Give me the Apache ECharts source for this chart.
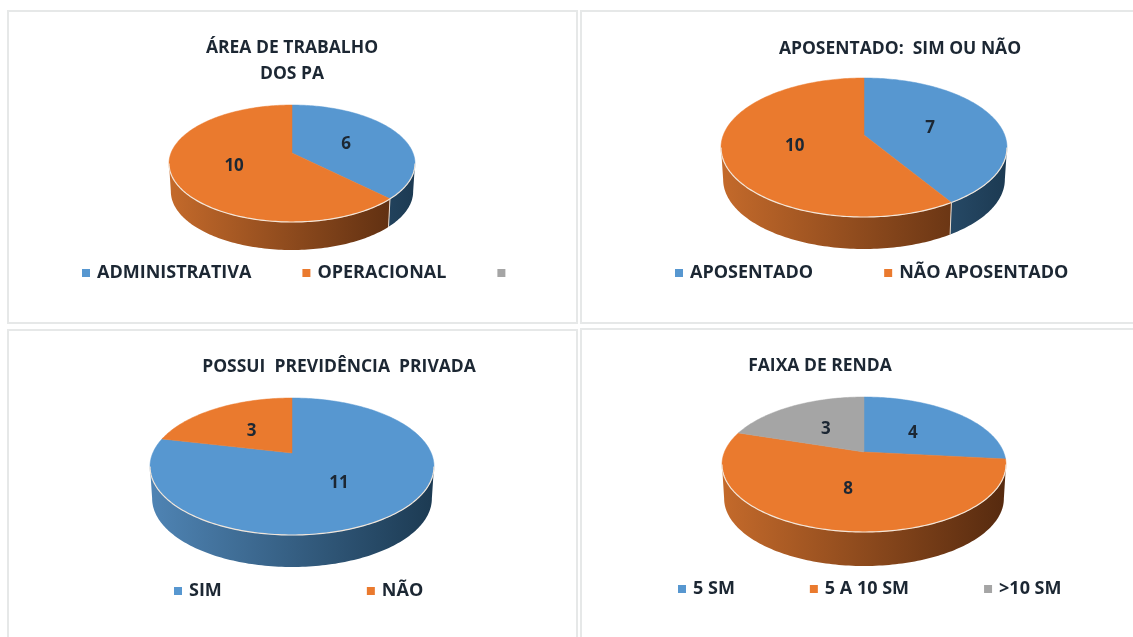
<!DOCTYPE html>
<html>
<head>
<meta charset="utf-8">
<title>Perfil dos PA</title>
<style>
  html, body { margin: 0; padding: 0; background: #fff; }
  /* the source picture is a soft screenshot */
  #charts { width: 1133px; height: 637px; filter: blur(0.4px); }
</style>
<script src="https://cdn.jsdelivr.net/npm/echarts@6/dist/echarts.min.js"></script>
</head>
<body>
<div id="charts"></div>
<script>
// values
const areaCategories = ["ADMINISTRATIVA", "OPERACIONAL", " "];
const areaValues = [6, 10, 0];
const aposentadoCategories = ["APOSENTADO", "NÃO APOSENTADO"];
const aposentadoValues = [7, 10];
const previdenciaCategories = ["SIM", "NÃO"];
const previdenciaValues = [11, 3];
const rendaCategories = ["5 SM", "5 A 10 SM", ">10 SM"];
const rendaValues = [4, 8, 3];

const FONT = "Open Sans";
const TEXT_COLOR = "#1c2733";
const colors = ["#5797d0", "#ea7a2e", "#a5a5a5"];
const wallLeft = ["#4f84b4", "#c46a2b", "#8a8a8a"];
const wallRight = ["#1c3a52", "#562a0f", "#444444"];

// apex is the point where the slices meet, perspective puts it above the ellipse centre
const pies = [
  { categories: areaCategories, values: areaValues, apexX: 292, apexY: 153, top: 105, bottom: 222, wallBottom: 250, halfWidth: 123 },
  { categories: aposentadoCategories, values: aposentadoValues, apexX: 864, apexY: 135, top: 78, bottom: 217, wallBottom: 249, halfWidth: 143 },
  { categories: previdenciaCategories, values: previdenciaValues, apexX: 292, apexY: 453, top: 398, bottom: 535, wallBottom: 567, halfWidth: 142 },
  { categories: rendaCategories, values: rendaValues, apexX: 864, apexY: 452, top: 397, bottom: 532, wallBottom: 566, halfWidth: 142 }
];

function makeProjection(pie) {
  const a = pie.apexY - pie.top;
  const b = pie.bottom - pie.apexY;
  const k = (b - a) / (b + a);
  const ry = a * (1 + k);
  const rx = pie.halfWidth * Math.sqrt(1 - k * k);
  const depth = pie.wallBottom - pie.bottom;
  // angle is clockwise from 12 o'clock, r is 0..1
  const project = function (angle, r, lower) {
    const u = Math.sin(angle) * r;
    const v = Math.cos(angle) * r;
    const w = 1 + k * v;
    const shrink = lower ? 0.985 : 1;
    return [
      pie.apexX + rx * u / w * shrink,
      pie.apexY - ry * v / w + (lower ? depth : 0)
    ];
  };
  return { k, project };
}

function sliceSeries(pie, index) {
  const total = pie.values.reduce((s, v) => s + v, 0);
  const before = pie.values.slice(0, index).reduce((s, v) => s + v, 0);
  const value = pie.values[index];
  const start = before / total * Math.PI * 2;
  const end = (before + value) / total * Math.PI * 2;
  const proj = makeProjection(pie);

  return {
    type: "custom",
    name: pie.categories[index],
    coordinateSystem: "none",
    colorBy: "series",
    itemStyle: { color: colors[index] },
    animation: false,
    silent: true,
    data: [[value]],
    renderItem: function () {
      const children = [];
      if (value <= 0) return { type: "group", children };

      const steps = Math.max(4, Math.ceil((end - start) / 0.02));
      const topPoints = [proj.project(0, 0)];
      for (let i = 0; i <= steps; i++) {
        topPoints.push(proj.project(start + (end - start) * i / steps, 1));
      }

      // side wall, only where the rim faces the viewer
      const frontFrom = Math.acos(-proj.k);
      const frontTo = Math.PI * 2 - frontFrom;
      const from = Math.max(start, frontFrom);
      const to = Math.min(end, frontTo);
      if (to > from) {
        const upper = [];
        const lower = [];
        const wallSteps = Math.ceil((to - from) / 0.02);
        for (let i = 0; i <= wallSteps; i++) {
          const t = from + (to - from) * i / wallSteps;
          upper.push(proj.project(t, 1));
          lower.push(proj.project(t, 1, true));
        }
        const x0 = pie.apexX - pie.halfWidth;
        const x1 = pie.apexX + pie.halfWidth;
        children.push({
          type: "polygon",
          shape: { points: upper.concat(lower.slice().reverse()) },
          style: {
            fill: new echarts.graphic.LinearGradient(x0, 0, x1, 0, [
              { offset: 0, color: wallLeft[index] },
              { offset: 1, color: wallRight[index] }
            ], true)
          },
          z2: 1
        });
        // pale seam down the wall at a slice edge, and along the front rim
        if (to < frontTo) {
          children.push({
            type: "line",
            shape: { x1: upper[wallSteps][0], y1: upper[wallSteps][1], x2: lower[wallSteps][0], y2: lower[wallSteps][1] },
            style: { stroke: "#e9dcd0", lineWidth: 1 },
            z2: 2
          });
        }
        children.push({
          type: "polyline",
          shape: { points: upper },
          style: { stroke: "#f2e6da", lineWidth: 1.2, fill: null },
          z2: 4
        });
      }

      children.push({
        type: "polygon",
        shape: { points: topPoints },
        style: { fill: colors[index], stroke: colors[index], lineWidth: 0.5 },
        z2: 3
      });

      const mid = proj.project((start + end) / 2, 0.5);
      children.push({
        type: "text",
        style: {
          x: mid[0],
          y: mid[1] + 2,
          text: String(value),
          fill: TEXT_COLOR,
          font: "bold 17px " + FONT,
          textAlign: "center",
          textVerticalAlign: "middle"
        },
        z2: 5
      });
      return { type: "group", children };
    }
  };
}

const series = [];
pies.forEach(function (pie) {
  pie.values.forEach(function (v, i) {
    series.push(sliceSeries(pie, i));
  });
});

const titleStyle = { fontFamily: FONT, fontSize: 17.5, fontWeight: "bold", color: TEXT_COLOR, lineHeight: 26 };
const legendBase = {
  orient: "horizontal",
  selectedMode: false,
  icon: "rect",
  itemWidth: 8,
  itemHeight: 8,
  padding: 0,
  textStyle: { fontFamily: FONT, fontSize: 18, fontWeight: "bold", color: TEXT_COLOR, padding: [0, 0, 0, 2] }
};

function panel(x, y, width, height) {
  return {
    type: "rect",
    shape: { x, y, width, height },
    style: { fill: "#ffffff", stroke: "#e6e8e8", lineWidth: 2 },
    silent: true
  };
}

const overview = echarts.init(document.getElementById("charts"));

overview.setOption({
  backgroundColor: "#ffffff",
  animation: false,
  graphic: [
    panel(8, 11, 569, 312),
    panel(581, 11, 560, 312),
    panel(8, 330, 569, 320),
    panel(581, 329, 560, 320)
  ],
  title: [
    { text: "ÁREA DE TRABALHO\nDOS PA", left: 287, top: 30, textAlign: "center", textStyle: titleStyle },
    { text: "APOSENTADO:  SIM OU NÃO", left: 895, top: 31, textAlign: "center", textStyle: titleStyle },
    { text: "POSSUI  PREVIDÊNCIA  PRIVADA", left: 334, top: 349, textAlign: "center", textStyle: titleStyle },
    { text: "FAIXA DE RENDA", left: 815, top: 348, textAlign: "center", textStyle: titleStyle }
  ],
  legend: [
    Object.assign({}, legendBase, { data: areaCategories, left: 82, top: 264, itemGap: 51 }),
    Object.assign({}, legendBase, { data: aposentadoCategories, left: 675, top: 264, itemGap: 71 }),
    Object.assign({}, legendBase, { data: previdenciaCategories, left: 174, top: 582, itemGap: 145 }),
    Object.assign({}, legendBase, { data: rendaCategories, left: 678, top: 580, itemGap: 75 })
  ],
  series: series
});

window.addEventListener("resize", function () {
  overview.resize();
});
</script>
</body>
</html>
